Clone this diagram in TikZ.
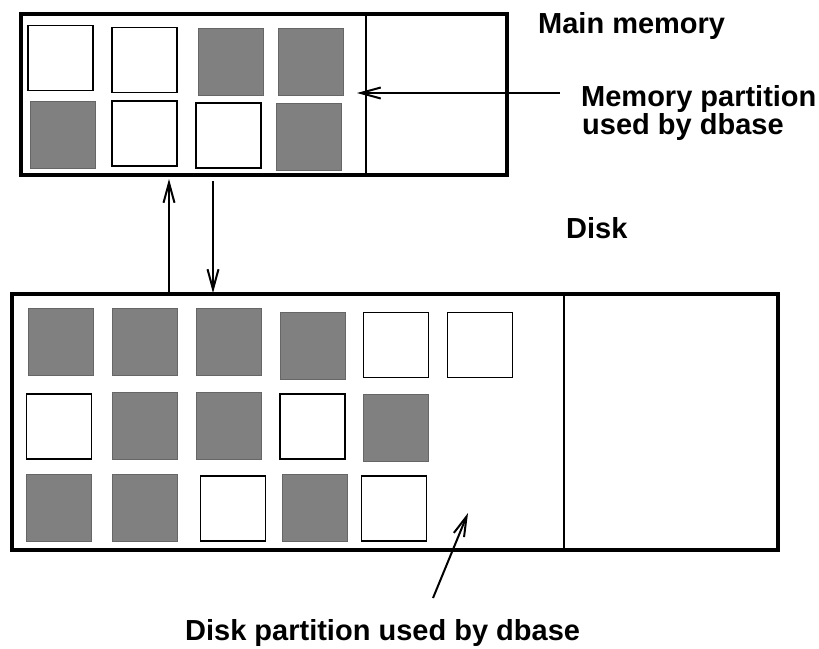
\documentclass[tikz,border=0pt]{standalone}
\usepackage{fontspec}
\setmainfont{Liberation Sans}
\usetikzlibrary{arrows.meta}

\tikzset{
  box/.style={draw, line width=4pt, inner sep=0pt, outer sep=0pt},
  divider/.style={line width=2pt},
  wsq/.style={draw=black, line width=1.6pt, fill=white, inner sep=0pt,
              minimum width=65pt, minimum height=65pt},
  gsq/.style={draw=black!60, line width=0.9pt, fill=black!50, inner sep=0pt,
              minimum width=65pt, minimum height=67pt},
  lbl/.style={anchor=base west, inner sep=0pt,
              font=\bfseries\fontsize{29}{26}\selectfont},
  arr/.style={line width=2pt, -{Straight Barb[length=20pt,width=11pt,line width=2pt]}}
}

\begin{document}
\begin{tikzpicture}[x=1pt, y=-1pt]
  \useasboundingbox (0,0) rectangle (819,648);

  % main memory frame and its partition line
  \node[box, minimum width=486pt, minimum height=161pt] (mem) at (264,94.5) {};
  \draw[divider] (mem.north -| 366,0) -- (mem.south -| 366,0);

  % memory pages
  \node[wsq] (m1) at (60.5,58) {};
  \node[wsq] (m2) at (144.5,60) {};
  \node[gsq] (m3) at (230.5,61.5) {};
  \node[gsq] (m4) at (310.5,61.5) {};
  \node[gsq] (m5) at (63,134.5) {};
  \node[wsq] (m6) at (144.5,133.5) {};
  \node[wsq] (m7) at (228.5,135.5) {};
  \node[gsq] (m8) at (308.5,136.5) {};

  % disk frame and its partition line
  \node[box, minimum width=766pt, minimum height=256pt] (disk) at (395,422) {};
  \draw[divider] (disk.north -| 564,0) -- (disk.south -| 564,0);

  % disk pages
  \node[gsq] (d1)  at (61,341.5) {};
  \node[gsq] (d2)  at (144.5,341.5) {};
  \node[gsq] (d3)  at (228.5,341.5) {};
  \node[gsq] (d4)  at (312.5,345.5) {};
  \node[wsq] (d5)  at (396,345) {};
  \node[wsq] (d6)  at (480,345) {};
  \node[wsq] (d7)  at (59,426.5) {};
  \node[gsq] (d8)  at (144.5,425.5) {};
  \node[gsq] (d9)  at (228.5,425.5) {};
  \node[wsq] (d10) at (312.5,426.5) {};
  \node[gsq] (d11) at (396,427.5) {};
  \node[gsq] (d12) at (59,507.5) {};
  \node[gsq] (d13) at (144.5,507.5) {};
  \node[wsq] (d14) at (233,508.5) {};
  \node[gsq] (d15) at (314.5,507.5) {};
  \node[wsq] (d16) at (394,508.5) {};

  % labels
  \node[lbl] (lmain) at (538,33) {Main memory};
  \node[lbl, anchor=north west, align=left] (lmp) at (581,85)
    {Memory partition\\\hspace*{1pt}used by dbase};
  \node[lbl] (ldisk) at (566,238) {Disk};
  \node[lbl] (ldp) at (185,640) {Disk partition used by dbase};

  % transfers between disk and memory
  \coordinate (upx) at (169,0);
  \coordinate (dnx) at (213,0);
  \draw[arr] (disk.north -| upx) -- ([yshift=-4pt]mem.south -| upx);
  \draw[arr] ([yshift=-6pt]mem.south -| dnx) -- ([yshift=1pt]disk.north -| dnx);

  % pointers from the labels to the partitions
  \coordinate (mtail) at (560,93);
  \coordinate (mtip) at (357,93);
  \draw[arr] (mtail) -- (mtip);
  \coordinate (dtail) at (433,598);
  \coordinate (dtip) at (468,513);
  \draw[arr] (dtail) -- (dtip);
\end{tikzpicture}
\end{document}
